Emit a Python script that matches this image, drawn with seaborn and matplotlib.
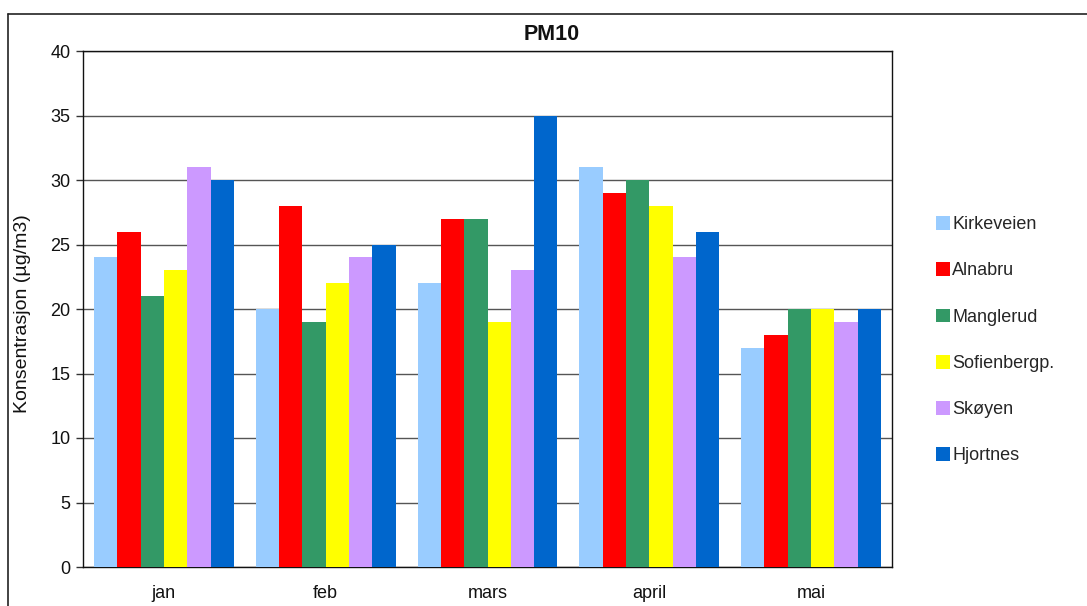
import matplotlib
matplotlib.use("Agg")
import matplotlib.pyplot as plt
import seaborn as sns
import pandas as pd
from matplotlib.patches import Patch
from matplotlib.lines import Line2D

months = ["jan", "feb", "mars", "april", "mai"]
stations = ["Kirkeveien", "Alnabru", "Manglerud", "Sofienbergp.", "Skøyen", "Hjortnes"]
kirkeveien = [24, 20, 22, 31, 17]
alnabru = [26, 28, 27, 29, 18]
manglerud = [21, 19, 27, 30, 20]
sofienbergp = [23, 22, 19, 28, 20]
skoyen = [31, 24, 23, 24, 19]
hjortnes = [30, 25, 35, 26, 20]
colors = ["#99CCFF", "#FF0000", "#339966", "#FFFF00", "#CC99FF", "#0066CC"]
yticks = [0, 5, 10, 15, 20, 25, 30, 35, 40]

series = [kirkeveien, alnabru, manglerud, sofienbergp, skoyen, hjortnes]
rows = []
for st, vals in zip(stations, series):
    for m, v in zip(months, vals):
        rows.append({"month": m, "station": st, "value": v})
df = pd.DataFrame(rows)

sns.set_theme(style="white")
plt.rcParams["font.family"] = ["Liberation Sans", "DejaVu Sans"]

fig = plt.figure(figsize=(10.87, 6.06), dpi=100)
ax = fig.add_axes([83/1087, 1 - 567/606, (892 - 83)/1087, (567 - 51)/606])

sns.barplot(data=df, x="month", y="value", hue="station", order=months,
            hue_order=stations, palette=colors, saturation=1, width=0.865,
            linewidth=0, errorbar=None, legend=False, ax=ax, zorder=3)

ax.set_ylim(0, 40)
ax.set_xlim(-0.5, 4.5)
ax.set_yticks(yticks)
ax.set_yticklabels([str(t) for t in yticks], fontsize=13, color="#111111")
ax.yaxis.grid(True, color="#555555", linewidth=1.0, zorder=0)
ax.set_axisbelow(True)
ax.set_xticks(range(len(months)))
ax.set_xticklabels(months, fontsize=13, color="#111111")
ax.set_xticks([i - 0.5 for i in range(len(months) + 1)], minor=True)
ax.tick_params(axis="x", which="major", length=0, pad=13)
ax.tick_params(axis="x", which="minor", length=5, width=1, color="#333333", direction="out")
ax.tick_params(axis="y", length=5, width=1, color="#333333", direction="out", pad=4, left=True)
ax.set_xlabel("")
ax.set_ylabel("Konsentrasjon (µg/m3)", fontsize=14, color="#111111")
ax.yaxis.set_label_coords(-0.064, 0.491)
for s in ax.spines.values():
    s.set_visible(True)
    s.set_color("#111111")
    s.set_linewidth(1.0)

fig.text(552/1087, 1 - 35/606, "PM10", fontsize=15.5, fontweight="bold",
         ha="center", va="center", color="#111111")

handles = [Patch(facecolor=c, edgecolor="none") for c in colors]
fig.legend(handles, stations, loc="upper left",
           bbox_to_anchor=(936/1087, 1 - 216/606), frameon=False, fontsize=13,
           handlelength=0.8, handleheight=0.8, handletextpad=0.1,
           labelspacing=1.61, borderaxespad=0, borderpad=0)

fig.add_artist(Line2D([7.5/1087, 7.5/1087], [0, 1 - 13.5/606], transform=fig.transFigure,
                      color="#222222", linewidth=1.2))
fig.add_artist(Line2D([7.5/1087, 1], [1 - 13.5/606, 1 - 13.5/606], transform=fig.transFigure,
                      color="#222222", linewidth=1.2))

fig.savefig("out.png", dpi=100, facecolor="white")
